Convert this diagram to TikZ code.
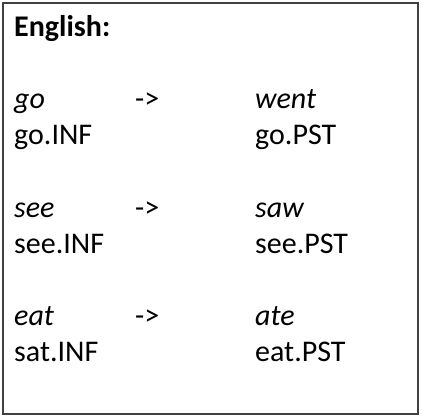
\documentclass[tikz,border=0pt]{standalone}
\usepackage{fontspec}
\setmainfont{Carlito}
\usepackage{tikz}
\usetikzlibrary{positioning}

\begin{document}
\begin{tikzpicture}[x=1pt, y=-1pt]
\tikzstyle{word} = [anchor=base west, inner sep=0pt, font=\fontsize{30}{36}\selectfont]
\tikzstyle{form} = [word, font=\fontsize{30}{36}\selectfont\itshape]
\tikzstyle{frame} = [draw=black!75, line width=1.5pt]

\useasboundingbox (0,0) rectangle (422,416);
\draw [frame] (3,3) rectangle (418,414);

% Heading
\node [word, font=\fontsize{30}{36}\selectfont\bfseries] (english) at (14,36) {English:};

% go
\node [form] (go) at (14,108.5) {go};
\node [word] (arrgo) at (135,108.5) {->};
\node [form] (went) at (255,108.5) {went};
\node [word] (goinf) at (14,144.5) {go.INF};
\node [word] (gopst) at (255,144.5) {go.PST};

% see
\node [form] (see) at (14,217) {see};
\node [word] (arrsee) at (135,217) {->};
\node [form] (saw) at (255,217) {saw};
\node [word] (seeinf) at (14,253) {see.INF};
\node [word] (seepst) at (255,253) {see.PST};

% eat
\node [form] (eat) at (14,325) {eat};
\node [word] (arreat) at (135,325) {->};
\node [form] (ate) at (255,325) {ate};
\node [word] (satinf) at (14,361) {sat.INF};
\node [word] (eatpst) at (255,361) {eat.PST};
\end{tikzpicture}
\end{document}
